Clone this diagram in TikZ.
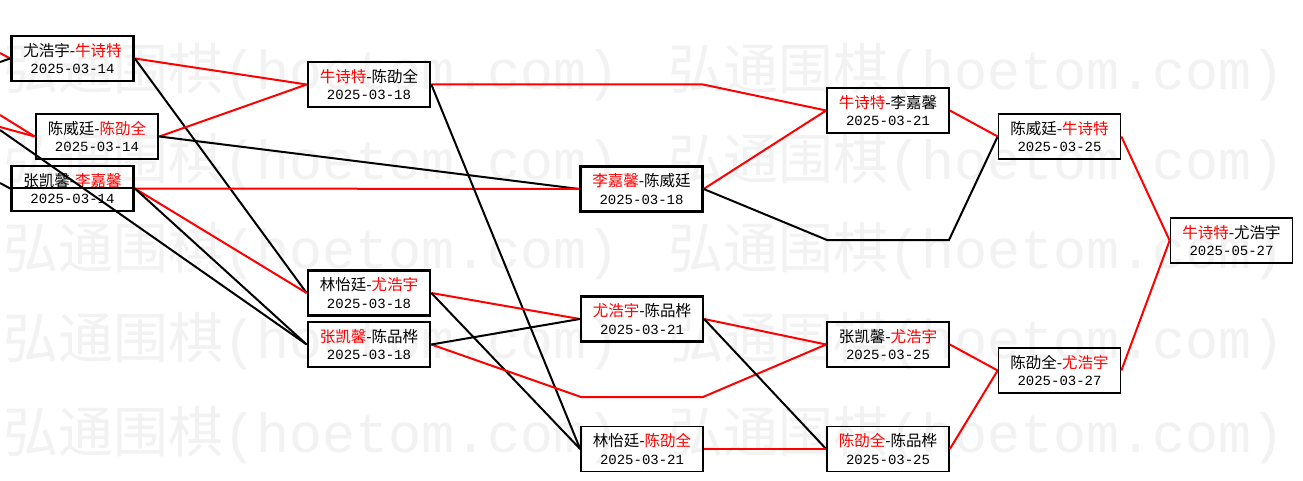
\documentclass[tikz,border=0pt]{standalone}
\usepackage{fontspec}
\newfontfamily\cjk{Noto Sans CJK SC}
\newfontfamily\monof{Liberation Mono}
\newcommand\mydate[1]{{\monof\fontsize{14}{16}\selectfont #1}}
\newcommand\wmtext{{\cjk 弘通围棋}{\monof (hoetom.com)}}
\begin{document}
\begin{tikzpicture}[x=1pt,y=-1pt,
  box/.style={draw=black, line width=1.7pt, minimum width=122pt, minimum height=45pt,
    inner sep=0pt, align=center, font=\cjk\fontsize{15.5}{17.5}\selectfont},
  thickbox/.style={box, line width=2.7pt},
  win/.style={draw=red, line width=2pt},
  lose/.style={draw=black, line width=2pt},
  wm/.style={anchor=base west, inner sep=0pt, text=black!5, font=\fontsize{55}{55}\selectfont}
]
\useasboundingbox (0,0) rectangle (1303,481);
\fill[white] (0,0) rectangle (1303,481);
\begin{scope}
\clip (0,0) rectangle (1303,481);
% watermark
\foreach \yy [count=\i] in {90,180,268,358,452}{
  \node[wm] (wma\i) at (3,\yy) {\wmtext};
  \node[wm] (wmb\i) at (668,\yy) {\wmtext};
}
% nodes
\node[thickbox] (A) at (72.5,58.5) {尤浩宇-\textcolor{red}{牛诗特}\\\mydate{2025-03-14}};
\node[thickbox] (B) at (97,136.5) {陈威廷-\textcolor{red}{陈劭全}\\\mydate{2025-03-14}};
\node[thickbox] (C) at (72.5,188.5) {张凯馨-\textcolor{red}{李嘉馨}\\\mydate{2025-03-14}};
\draw[line width=2pt] (C.west) -- (C.east);
\node[thickbox] (D) at (369,84.5) {\textcolor{red}{牛诗特}-陈劭全\\\mydate{2025-03-18}};
\node[thickbox, line width=2.3pt] (E) at (641.5,189) {\textcolor{red}{李嘉馨}-陈威廷\\\mydate{2025-03-18}};
\node[thickbox] (F) at (369,293) {林怡廷-\textcolor{red}{尤浩宇}\\\mydate{2025-03-18}};
\node[thickbox] (G) at (369,344.5) {\textcolor{red}{张凯馨}-陈品桦\\\mydate{2025-03-18}};
\node[thickbox, line width=2.3pt] (H) at (642,319) {\textcolor{red}{尤浩宇}-陈品桦\\\mydate{2025-03-21}};
\node[box] (I) at (642,449) {林怡廷-\textcolor{red}{陈劭全}\\\mydate{2025-03-21}};
\node[box] (L) at (888,110.5) {\textcolor{red}{牛诗特}-李嘉馨\\\mydate{2025-03-21}};
\node[box] (J) at (888,344.5) {张凯馨-\textcolor{red}{尤浩宇}\\\mydate{2025-03-25}};
\node[box] (K) at (888,449) {\textcolor{red}{陈劭全}-陈品桦\\\mydate{2025-03-25}};
\node[box] (M) at (1059.5,136.5) {陈威廷-\textcolor{red}{牛诗特}\\\mydate{2025-03-25}};
\node[box] (N) at (1059.5,370.5) {陈劭全-\textcolor{red}{尤浩宇}\\\mydate{2025-03-27}};
\node[box] (O) at (1231.5,240.5) {\textcolor{red}{牛诗特}-尤浩宇\\\mydate{2025-05-27}};
% free ends at the left edge
\coordinate (la1) at (0,53);
\coordinate (la2) at (0,62);
\coordinate (lb1) at (0,115);
\coordinate (lb2) at (0,127);
\coordinate (lg) at (0,130);
\coordinate (lc) at (0,183);
% bends
\coordinate (d1) at (703,84.5);
\coordinate (e1) at (827,240);
\coordinate (e2) at (949,240);
\coordinate (g1) at (581,397);
\coordinate (g2) at (703,397);
% connectors
\draw[win] (la1) -- (A.west);
\draw[lose] (la2) -- (A.west);
\draw[win] (lb1) -- (B.west);
\draw[win] (lb2) -- (B.west);
\draw[lose] (lg) -- (G.west);
\draw[lose] (lc) -- (C.west);
\draw[win] (A.east) -- (D.west);
\draw[lose] (A.east) -- (F.west);
\draw[win] (B.east) -- (D.west);
\draw[lose] (B.east) -- (E.west);
\draw[win] (C.east) -- (E.west);
\draw[win] (C.east) -- (F.west);
\draw[lose] (C.east) -- (G.west);
\draw[win] (D.east) -- (d1) -- (L.west);
\draw[lose] (D.east) -- (I.west);
\draw[win] (E.east) -- (L.west);
\draw[lose] (E.east) -- (e1) -- (e2) -- (M.west);
\draw[win] (F.east) -- (H.west);
\draw[lose] (F.east) -- (I.west);
\draw[win] (G.east) -- (g1) -- (g2) -- (J.west);
\draw[lose] (G.east) -- (H.west);
\draw[win] (H.east) -- (J.west);
\draw[lose] (H.east) -- (K.west);
\draw[win] (I.east) -- (K.west);
\draw[win] (L.east) -- (M.west);
\draw[win] (J.east) -- (N.west);
\draw[win] (K.east) -- (N.west);
\draw[win] (M.east) -- (O.west);
\draw[win] (N.east) -- (O.west);
\end{scope}
\end{tikzpicture}
\end{document}
